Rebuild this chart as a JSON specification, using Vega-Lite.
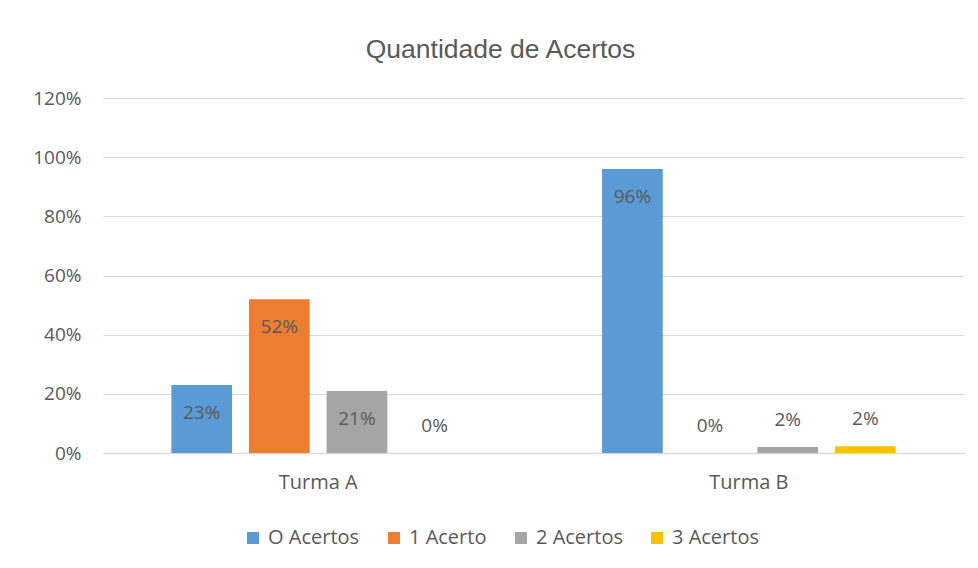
{
  "$schema": "https://vega.github.io/schema/vega-lite/v6.json",
  "width": 861,
  "height": 355,
  "autosize": {"type": "none"},
  "padding": {"left": 103, "top": 98, "right": 14, "bottom": 115},
  "background": "white",
  "config": {"view": {"stroke": null}, "font": "Open Sans"},
  "title": {"text": "Quantidade de Acertos", "fontSize": 26.5, "font": "Liberation Sans", "fontWeight": "normal", "color": "#595959", "offset": 26, "dx": -33},
  "data": {"values": [
    {"turma": "Turma A", "serie": "O Acertos", "valor": 0.23},
    {"turma": "Turma A", "serie": "1 Acerto", "valor": 0.52},
    {"turma": "Turma A", "serie": "2 Acertos", "valor": 0.21},
    {"turma": "Turma A", "serie": "3 Acertos", "valor": 0.0},
    {"turma": "Turma B", "serie": "O Acertos", "valor": 0.96},
    {"turma": "Turma B", "serie": "1 Acerto", "valor": 0.0},
    {"turma": "Turma B", "serie": "2 Acertos", "valor": 0.02},
    {"turma": "Turma B", "serie": "3 Acertos", "valor": 0.023}
  ]},
  "encoding": {
    "x": {"field": "turma", "type": "nominal", "scale": {"paddingInner": 0.279, "paddingOuter": 0.139},
      "axis": {"title": null, "labelAngle": 0, "ticks": false, "domainColor": "#D9D9D9", "domainWidth": 1.5, "labelFontSize": 20, "labelColor": "#595959", "labelPadding": 19, "labelFont": "Open Sans"}},
    "xOffset": {"field": "serie", "type": "nominal", "sort": ["O Acertos", "1 Acerto", "2 Acertos", "3 Acertos"], "scale": {"paddingInner": 0.218, "paddingOuter": 0.109}},
    "y": {"field": "valor", "type": "quantitative", "scale": {"domain": [0, 1.2], "nice": false},
      "axis": {"title": null, "format": ".0%", "values": [0, 0.2, 0.4, 0.6, 0.8, 1.0, 1.2], "domain": false, "ticks": false, "gridColor": "#D9D9D9", "gridWidth": 1, "labelFontSize": 19, "labelColor": "#595959", "labelPadding": 22, "labelFont": "Open Sans"}}
  },
  "layer": [
    {
      "mark": {"type": "bar"},
      "encoding": {
        "color": {"field": "serie", "type": "nominal",
          "scale": {"domain": ["O Acertos", "1 Acerto", "2 Acertos", "3 Acertos"], "range": ["#5B9BD5", "#ED7D31", "#A5A5A5", "#FFC000"]},
          "legend": {"title": null, "orient": "none", "legendX": 140, "legendY": 430, "direction": "horizontal", "symbolType": "square", "symbolSize": 144, "symbolStrokeWidth": 0, "labelFontSize": 20, "labelColor": "#595959", "labelFont": "Open Sans", "columnPadding": 24, "labelOffset": 5}}
      }
    },
    {
      "transform": [{"filter": "datum.valor >= 0.05"}],
      "mark": {"type": "text", "baseline": "middle", "dy": 28, "fontSize": 19, "color": "#595959", "font": "Open Sans"},
      "encoding": {"text": {"field": "valor", "type": "quantitative", "format": ".0%"}}
    },
    {
      "transform": [{"filter": "datum.valor < 0.05"}],
      "mark": {"type": "text", "baseline": "middle", "dy": -27, "fontSize": 19, "color": "#595959", "font": "Open Sans"},
      "encoding": {"text": {"field": "valor", "type": "quantitative", "format": ".0%"}}
    }
  ]
}
